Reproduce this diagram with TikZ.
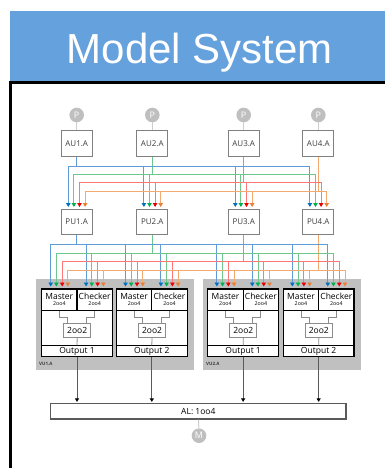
\documentclass[tikz,border=0pt]{standalone}
\usepackage{fontspec}
\setmainfont{Open Sans}
\newfontfamily\titlefont{Liberation Sans}
\usetikzlibrary{arrows.meta,calc}

\definecolor{barblue}{RGB}{101,161,221}
\definecolor{lnB}{RGB}{95,155,213}
\definecolor{tipB}{RGB}{0,112,192}
\definecolor{lnG}{RGB}{110,200,140}
\definecolor{tipG}{RGB}{0,176,80}
\definecolor{lnR}{RGB}{255,120,120}
\definecolor{tipR}{RGB}{235,0,0}
\definecolor{lnO}{RGB}{244,170,110}
\definecolor{tipO}{RGB}{237,125,49}
\definecolor{boxgray}{RGB}{128,128,128}
\definecolor{pingray}{RGB}{191,191,191}
\definecolor{feedgray}{RGB}{205,205,205}
\definecolor{vugray}{RGB}{192,192,192}
\definecolor{txtgray}{RGB}{60,60,60}
\definecolor{votegray}{RGB}{140,140,140}
\definecolor{outgray}{RGB}{90,90,90}

\begin{document}
\begin{tikzpicture}[x=1pt,y=-1pt,
  unitbox/.style={draw=boxgray, line width=1.1pt, fill=white, minimum width=31pt,
    minimum height=25.5pt, inner sep=0pt, text=txtgray, font=\fontsize{8}{9}\selectfont},
  pinc/.style={circle, fill=pingray, minimum size=14.6pt, inner sep=0pt, text=white,
    font=\fontsize{9}{10}\selectfont},
  feed/.style={draw=feedgray, line width=1pt},
  wB/.style={draw=lnB, line width=0.9pt}, tB/.style={-{Triangle[width=4.5pt,length=4pt,color=tipB]}},
  wG/.style={draw=lnG, line width=0.9pt}, tG/.style={-{Triangle[width=4.5pt,length=4pt,color=tipG]}},
  wR/.style={draw=lnR, line width=0.9pt}, tR/.style={-{Triangle[width=4.5pt,length=4pt,color=tipR]}},
  wO/.style={draw=lnO, line width=0.9pt}, tO/.style={-{Triangle[width=4.5pt,length=4pt,color=tipO]}},
  vubox/.style={fill=vugray, minimum height=90.2pt, inner sep=0pt, outer sep=0pt},
  vulbl/.style={font=\fontsize{4.5}{5}\selectfont\bfseries, text=txtgray, inner sep=0pt, anchor=west},
  modbox/.style={draw, line width=1.2pt, fill=white, minimum width=70.8pt, minimum height=67.7pt,
    inner sep=0pt, outer sep=0pt},
  cellbox/.style={draw, line width=1.2pt, minimum width=35.4pt, minimum height=21.7pt,
    inner sep=0pt, outer sep=0pt},
  outbox/.style={draw, line width=1.2pt, minimum width=70.8pt, minimum height=11.4pt,
    inner sep=0pt, outer sep=0pt, font=\fontsize{8.5}{9}\selectfont},
  mainlbl/.style={inner sep=0pt, font=\fontsize{8.5}{9}\selectfont},
  sublbl/.style={inner sep=0pt, font=\fontsize{5.3}{6}\selectfont},
  votebox/.style={draw=votegray, line width=1pt, fill=white, minimum width=27pt,
    minimum height=14.4pt, inner sep=0pt, font=\fontsize{8.5}{9}\selectfont},
  intwire/.style={draw=votegray, line width=0.8pt},
  outwire/.style={draw=outgray, line width=0.9pt, -{Triangle[width=4pt,length=3.5pt,color=black]}},
  albox/.style={draw=outgray, line width=1.2pt, fill=white, minimum width=295.3pt,
    minimum height=15.7pt, inner sep=0pt, font=\fontsize{8.5}{9}\selectfont}
]
\useasboundingbox (0,0) rectangle (385,468);
\fill[white] (0,0) rectangle (385,468);

% title bar and frame
\fill[barblue] (10,10.7) rectangle (385,82);
\draw[line width=2.4pt] (10.3,468) -- (10.3,82.6) -- (385,82.6);
\node[anchor=base, text=white, inner sep=0pt, font=\titlefont\fontsize{42}{46}\selectfont]
  (title) at (200,63.3) {Model System};

% bus levels
\coordinate (busB) at (0,166);   \coordinate (busG) at (0,174);
\coordinate (busR) at (0,182.5); \coordinate (busO) at (0,191);
\coordinate (lbusB) at (0,244.5); \coordinate (lbusG) at (0,253);
\coordinate (lbusR) at (0,261.5); \coordinate (lbusO) at (0,270);

% acquisition and processing units
\foreach \i/\cx in {1/76.7, 2/152.3, 3/243.7, 4/318.3} {
  \node[pinc] (p\i) at (\cx,115) {P};
  \node[unitbox] (au\i) at (\cx,143.3) {AU\i.A};
  \node[unitbox] (pu\i) at (\cx,221.8) {PU\i.A};
  \draw[feed] (p\i) -- (au\i);
}

% AU outputs onto the upper buses
\draw[wB] (au1.south) -- (au1.south |- busB);
\draw[wG] (au2.south) -- (au2.south |- busG);
\draw[wR] (au3.south) -- (au3.south |- busR);
\draw[wO] (au4.south) -- (au4.south |- busO);

% upper buses and drops into the PUs
\foreach \c/\dx in {B/-8.4, G/-2.8, R/2.8, O/8.4} {
  \foreach \t in {pu1,pu2,pu3,pu4}
    \coordinate (\t-\c) at ([xshift=\dx pt]\t.north);
  \draw[w\c, line cap=rect] (pu1-\c |- bus\c) -- (pu4-\c |- bus\c);
  \foreach \t in {pu1,pu2,pu3,pu4}
    \draw[w\c, t\c, shorten >=1.5pt] (\t-\c |- bus\c) -- (\t-\c);
}

% PU outputs onto the lower buses
\draw[wB] (pu1.south) -- (pu1.south |- lbusB);
\draw[wG] (pu2.south) -- (pu2.south |- lbusG);
\draw[wR] (pu3.south) -- (pu3.south |- lbusR);
\draw[wO] (pu4.south) -- (pu4.south |- lbusO);

% voting units
\node[vubox, minimum width=158.3pt] (vu1) at (114.85,324.4) {};
\node[vubox, minimum width=157.8pt] (vu2) at (281.6,324.4) {};
\node[vulbl] at ([xshift=3.3pt,yshift=5.5pt]vu1.south west) {VU1.A};
\node[vulbl] at ([xshift=3.3pt,yshift=5.5pt]vu2.south west) {VU2.A};

% AL box and its output
\node[albox] (al) at (198.35,411.15) {AL: 1oo4};
\node[pinc] (mo) at (199,435.7) {M};
\draw[feed] (al) -- (mo);

% channel modules
\foreach \n/\cx/\k in {m11/77/1, m12/151.8/2, m21/243.15/1, m22/318.65/2} {
  \node[modbox] (\n) at (\cx,322.85) {};
  \node[cellbox, anchor=north west] (\n-m) at (\n.north west) {};
  \node[cellbox, anchor=north east] (\n-c) at (\n.north east) {};
  \node[outbox, anchor=south] (\n-o) at (\n.south) {Output \k};
  \node[mainlbl] at ([yshift=3.4pt]\n-m.center) {Master};
  \node[sublbl] at ([yshift=-3.9pt]\n-m.center) {2oo4};
  \node[mainlbl] at ([yshift=3.4pt]\n-c.center) {Checker};
  \node[sublbl] at ([yshift=-3.9pt]\n-c.center) {2oo4};
  \node[votebox] (\n-v) at (\cx+0.2,330.4) {2oo2};
  \draw[intwire] (\n-m.south) -- ++(0,6.6) -| ([xshift=-9.5pt]\n-v.north);
  \draw[intwire] (\n-c.south) -- ++(0,6.6) -| ([xshift=9.5pt]\n-v.north);
  \draw[intwire] (\n-v.south) -- (\n-o.north);
  \draw[outwire, shorten >=0.8pt] (\n.south) -- (\n.south |- al.north);
}

% lower buses and drops into the master and checker cells
\foreach \c/\dx in {B/-8.6, G/-2.9, R/2.9, O/8.6} {
  \foreach \t in {m11-m,m11-c,m12-m,m12-c,m21-m,m21-c,m22-m,m22-c}
    \coordinate (\t-\c) at ([xshift=\dx pt]\t.north);
  \draw[w\c, line cap=rect] (m11-m-\c |- lbus\c) -- (m22-c-\c |- lbus\c);
  \foreach \t in {m11-m,m11-c,m12-m,m12-c,m21-m,m21-c,m22-m,m22-c}
    \draw[w\c, t\c, shorten >=2.5pt] (\t-\c |- lbus\c) -- (\t-\c);
}
\end{tikzpicture}
\end{document}
